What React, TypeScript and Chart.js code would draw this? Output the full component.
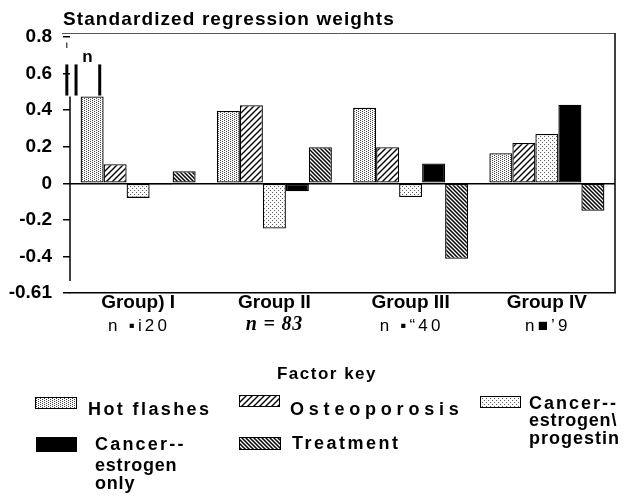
import React, { useEffect, useRef } from "react";
import { Chart, registerables } from "chart.js";

Chart.register(...registerables);

// ---------- data ----------
const categories = ["Group) I", "Group II", "Group III", "Group IV"];
const sampleSizeLabels = ["n \u25aai20", "n = 83", "n \u25aa\u201c40", "n\u25a0\u20199"];
const hotFlashes = [0.475, 0.395, 0.413, 0.165];
const osteoporosis = [0.104, 0.427, 0.197, 0.22];
const cancerEstrogenProgestin = [-0.08, -0.247, -0.075, 0.27];
const cancerEstrogenOnly = [-0.006, -0.044, 0.108, 0.43];
const treatment = [0.066, 0.197, -0.413, -0.15];
const yTickValues = [0.8, 0.6, 0.4, 0.2, 0, -0.2, -0.4, -0.6];
const yTickLabels = ["0.8", "0.6", "0.4", "0.2", "0", "-0.2", "-0.4", "-0.61"];
const seriesNames = [
  "Hot flashes",
  "Osteoporosis",
  "Cancer--estrogen\\progestin",
  "Cancer--estrogen only",
  "Treatment",
];
const chartTitle = "Standardized regression weights";
const legendTitle = "Factor key";

const SANS = '"Liberation Sans", Arial, sans-serif';
const SERIF = '"Liberation Serif", "Times New Roman", serif';

function makePattern(kind: string): CanvasPattern | string {
  if (kind === "solid") return "#000";
  const c = document.createElement("canvas");
  const g = c.getContext("2d")!;
  if (kind === "dots" || kind === "lightdots") {
    c.width = 4;
    c.height = 4;
    g.fillStyle = "#fbfbfb";
    g.fillRect(0, 0, 4, 4);
    g.fillStyle = kind === "dots" ? "#444" : "#5a5a5a";
    const pts =
      kind === "dots"
        ? [[0, 0], [2, 1], [0, 2], [2, 3]]
        : [[0, 0], [2, 2]];
    pts.forEach(([px, py]) => g.fillRect(px, py, 1, 1));
  } else if (kind === "fwd") {
    const s = 6;
    c.width = s;
    c.height = s;
    g.fillStyle = "#fff";
    g.fillRect(0, 0, s, s);
    g.strokeStyle = "#000";
    g.lineWidth = 1.4;
    g.beginPath();
    g.moveTo(0, s); g.lineTo(s, 0);
    g.moveTo(-1, 1); g.lineTo(1, -1);
    g.moveTo(s - 1, s + 1); g.lineTo(s + 1, s - 1);
    g.stroke();
  } else if (kind === "back") {
    const s = 4;
    c.width = s;
    c.height = s;
    g.fillStyle = "#fff";
    g.fillRect(0, 0, s, s);
    g.strokeStyle = "#000";
    g.lineWidth = 1.5;
    g.beginPath();
    g.moveTo(0, 0); g.lineTo(s, s);
    g.moveTo(-1, s - 1); g.lineTo(1, s + 1);
    g.moveTo(s - 1, -1); g.lineTo(s + 1, 1);
    g.stroke();
  }
  return g.createPattern(c, "repeat")!;
}

const patternKinds = ["dots", "fwd", "lightdots", "solid", "back"];

function txt(
  ctx: CanvasRenderingContext2D,
  s: string,
  x: number,
  y: number,
  font: string,
  align: CanvasTextAlign = "left",
  spacing = 0
) {
  ctx.save();
  ctx.font = font;
  ctx.fillStyle = "#000";
  ctx.textAlign = align;
  ctx.textBaseline = "middle";
  (ctx as any).letterSpacing = spacing + "px";
  ctx.fillText(s, x, y);
  ctx.restore();
}

export default function App() {
  const ref = useRef<HTMLCanvasElement | null>(null);

  useEffect(() => {
    if (!ref.current) return;
    const fills = patternKinds.map(makePattern);
    const seriesValues = [
      hotFlashes,
      osteoporosis,
      cancerEstrogenProgestin,
      cancerEstrogenOnly,
      treatment,
    ];

    const overlay = {
      id: "overlay",
      afterDraw(chart: any) {
        const { ctx, chartArea, scales } = chart;
        const xs = scales.x;
        const ys = scales.y;
        // title
        txt(ctx, chartTitle, 63, 20, `bold 19px ${SANS}`, "left", 1.1);

        // frame
        ctx.save();
        ctx.strokeStyle = "#555";
        ctx.lineWidth = 1;
        ctx.beginPath();
        ctx.moveTo(chartArea.left - 8, chartArea.top + 0.5);
        ctx.lineTo(chartArea.right, chartArea.top + 0.5);
        ctx.stroke();
        ctx.strokeStyle = "#000";
        ctx.lineWidth = 1.5;
        ctx.beginPath();
        ctx.moveTo(chartArea.right, chartArea.top);
        ctx.lineTo(chartArea.right, chartArea.bottom);
        ctx.stroke();
        // left axis (broken at the top as in the scan)
        ctx.beginPath();
        ctx.moveTo(chartArea.left, ys.getPixelForValue(hotFlashes[0]));
        ctx.lineTo(chartArea.left, ys.getPixelForValue(-0.535));
        ctx.stroke();
        ctx.restore();

        // break marks above Group I hot flashes bar
        const bar = chart.getDatasetMeta(0).data[0];
        if (bar) {
          const w = bar.width;
          const yTop = ys.getPixelForValue(0.65);
          const yBot = ys.getPixelForValue(0.48);
          ctx.save();
          ctx.strokeStyle = "#000";
          ctx.lineWidth = 3;
          [-1.1, -0.7, 0.33].forEach((f) => {
            ctx.beginPath();
            ctx.moveTo(bar.x + f * w, yTop);
            ctx.lineTo(bar.x + f * w, yBot);
            ctx.stroke();
          });
          ctx.lineWidth = 1;
          ctx.beginPath();
          ctx.moveTo(bar.x - 1.1 * w, ys.getPixelForValue(0.77));
          ctx.lineTo(bar.x - 1.1 * w, ys.getPixelForValue(0.74));
          ctx.stroke();
          ctx.restore();
          txt(ctx, "n", bar.x - 0.2 * w, ys.getPixelForValue(0.69), `bold 17px ${SANS}`, "center");
        }

        // sample size lines under group labels
        sampleSizeLabels.forEach((s, i) => {
          const cx = xs.getPixelForTick(i);
          if (i === 1) {
            txt(ctx, s, cx, 325, `italic bold 20px ${SERIF}`, "center", 0.8);
          } else {
            txt(ctx, s, cx + 1, 326, `17px ${SANS}`, "center", 3.2);
          }
        });

        // legend
        txt(ctx, legendTitle, 327, 374, `bold 17px ${SANS}`, "center", 1.5);
        const sw = (i: number, x: number, y: number, w: number, h: number) => {
          ctx.save();
          ctx.fillStyle = fills[i] as any;
          ctx.fillRect(x, y, w, h);
          ctx.strokeStyle = "#000";
          ctx.lineWidth = 1;
          ctx.strokeRect(x + 0.5, y + 0.5, w - 1, h - 1);
          ctx.restore();
        };
        const B = `bold 18px ${SANS}`;
        sw(0, 35, 397, 42, 12);
        txt(ctx, seriesNames[0], 88, 410, B, "left", 2.4);
        sw(1, 239, 395, 41, 12);
        txt(ctx, seriesNames[1], 290, 410, B, "left", 4.8);
        sw(2, 480, 396, 41, 12);
        const cep = seriesNames[2].split("--");
        txt(ctx, cep[0] + "--", 529, 404, B, "left", 2);
        txt(ctx, cep[1].split("\\")[0] + "\\", 529, 421, B, "left", 0.8);
        txt(ctx, "progestin", 529, 439, B, "left", 1);
        sw(3, 36, 437, 41, 15);
        const ceo = seriesNames[3].split("--");
        txt(ctx, ceo[0] + "--", 95, 445, B, "left", 2.2);
        txt(ctx, ceo[1].split(" ")[0], 95, 466, B, "left", 0.8);
        txt(ctx, ceo[1].split(" ")[1], 95, 484, B, "left", 0.8);
        sw(4, 239, 437, 42, 13);
        txt(ctx, seriesNames[4], 292, 444, B, "left", 2.5);
      },
    };

    const chart = new Chart(ref.current, {
      type: "bar",
      data: {
        labels: categories,
        datasets: seriesValues.map((vals, i) => ({
          label: seriesNames[i],
          data: vals,
          backgroundColor: fills[i] as any,
          borderColor: "#000",
          borderWidth: 1.3,
          borderSkipped: false,
          categoryPercentage: 0.844,
          barPercentage: 1,
        })),
      },
      options: {
        animation: false,
        responsive: false,
        layout: { padding: { left: 0, right: 17, top: 33, bottom: 0 } },
        plugins: {
          legend: { display: false },
          title: { display: false },
          tooltip: { enabled: false },
        },
        scales: {
          x: {
            grid: { display: false, drawTicks: false },
            border: { display: true, color: "#000", width: 1.5 },
            ticks: {
              color: "#000",
              padding: 0,
              font: { family: SANS, size: 19, weight: "bold", lineHeight: 1 },
              maxRotation: 0,
            },
            afterFit: (s: any) => {
              s.height = 204;
            },
          },
          y: {
            min: -0.6,
            max: 0.822,
            afterBuildTicks: (s: any) => {
              s.ticks = yTickValues.map((v) => ({ value: v }));
            },
            afterFit: (s: any) => {
              s.width = 70;
            },
            border: { display: false },
            grid: {
              drawOnChartArea: true,
              drawTicks: true,
              tickLength: 7,
              tickColor: "#000",
              lineWidth: 1.5,
              color: (c: any) => (c.tick && c.tick.value === 0 ? "#000" : "rgba(0,0,0,0)"),
            },
            ticks: {
              color: "#000",
              padding: 11,
              font: { family: SANS, size: 19, weight: "bold" },
              callback: (v: any) => {
                const i = yTickValues.findIndex((t) => Math.abs(t - Number(v)) < 1e-6);
                return i >= 0 ? yTickLabels[i] : "";
              },
            },
          },
        },
      },
      plugins: [overlay],
    });
    return () => chart.destroy();
  }, []);

  return (
    <div style={{ position: "absolute", left: 0, top: 0, width: 632, height: 497, background: "#fff" }}>
      <canvas ref={ref} width={632} height={497} style={{ width: 632, height: 497, display: "block" }} />
    </div>
  );
}
